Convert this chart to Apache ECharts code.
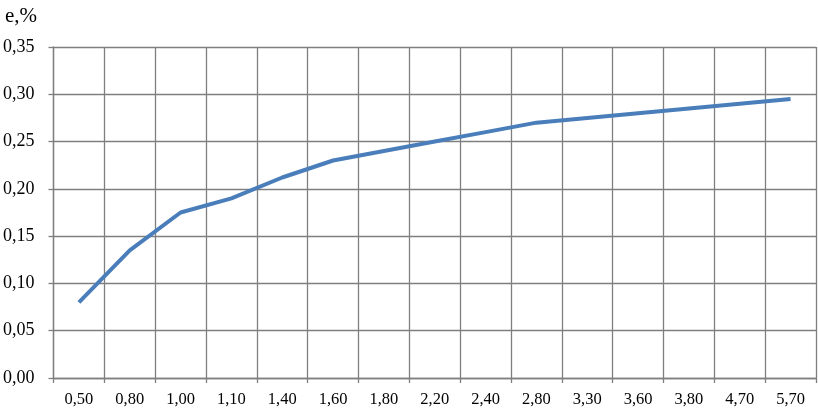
<!DOCTYPE html>
<html>
<head>
<meta charset="utf-8">
<script src="https://cdn.jsdelivr.net/npm/echarts@6/dist/echarts.min.js"></script>
<style>
  html, body { margin: 0; padding: 0; background: #fff; }
  #chart { width: 818px; height: 410px; }
</style>
</head>
<body>
<div id="chart"></div>
<script>
// категории по оси X
var categories = ['0,50', '0,80', '1,00', '1,10', '1,40', '1,60', '1,80', '2,20', '2,40', '2,80', '3,30', '3,60', '3,80', '4,70', '5,70'];
// значения e, %
var values = [0.08, 0.135, 0.175, 0.19, 0.212, 0.23, 0.24, 0.25, 0.26, 0.27, 0.275, 0.28, 0.285, 0.29, 0.295];
var yMin = 0, yMax = 0.35, yStep = 0.05;

var myChart = echarts.init(document.getElementById('chart'));
myChart.setOption({
  animation: false,
  title: {
    text: 'e,%',
    left: 0,
    top: 1,
    textStyle: { fontFamily: 'Liberation Serif', fontSize: 21, fontWeight: 'normal', color: '#000' }
  },
  grid: { left: 53, right: 2, top: 47, bottom: 32 },
  xAxis: {
    type: 'category',
    data: categories,
    boundaryGap: true,
    axisLine: { lineStyle: { color: '#7f7f7f', width: 1.3 } },
    axisTick: { show: true, length: 5, inside: false, lineStyle: { color: '#7f7f7f', width: 1.3 } },
    axisLabel: { margin: 13, fontFamily: 'Liberation Serif', fontSize: 16.5, color: '#000' },
    splitLine: { show: true, lineStyle: { color: '#7f7f7f', width: 1.3 } }
  },
  yAxis: {
    type: 'value',
    min: yMin,
    max: yMax,
    interval: yStep,
    axisLine: { show: true, lineStyle: { color: '#7f7f7f', width: 1.3 } },
    axisTick: { show: true, length: 5, lineStyle: { color: '#7f7f7f', width: 1.3 } },
    axisLabel: {
      margin: 19,
      fontFamily: 'Liberation Serif',
      fontSize: 18,
      color: '#000',
      formatter: function (v) { return v.toFixed(2).replace('.', ','); }
    },
    splitLine: { show: true, lineStyle: { color: '#7f7f7f', width: 1.3 } }
  },
  series: [{
    type: 'line',
    data: values,
    symbol: 'none',
    lineStyle: { color: '#4a7ebb', width: 4 },
    itemStyle: { color: '#4a7ebb' }
  }]
});
</script>
</body>
</html>
